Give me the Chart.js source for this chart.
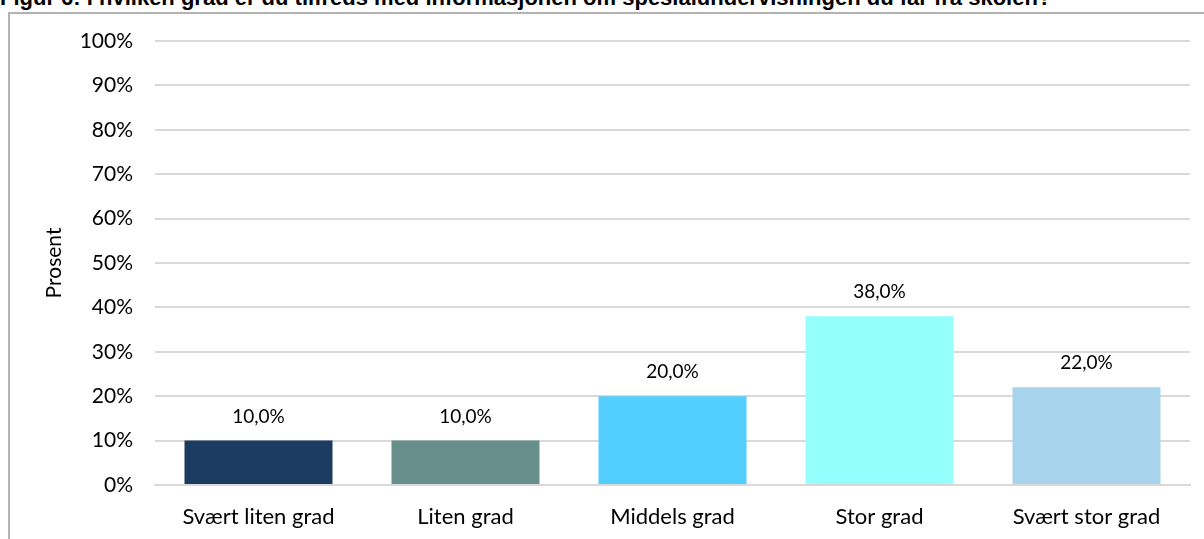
<!DOCTYPE html>
<html lang="no">
<head>
<meta charset="UTF-8">
<title>Figur 6</title>
<script src="https://cdn.jsdelivr.net/npm/chart.js@4.4.4/dist/chart.umd.min.js"></script>
<style>
    html, body {
        margin: 0;
        padding: 0;
        background: #fff;
        overflow: hidden;
    }
    #wrap {
        position: relative;
        width: 1204px;
        height: 539px;
        overflow: hidden;
    }
    #frame {
        position: absolute;
        left: 8px;
        top: 12px;
        width: 1300px;
        height: 600px;
        border-left: 2px solid #b3b3b3;
        border-top: 2px solid #b3b3b3;
    }
    #title {
        position: absolute;
        left: 0;
        top: -13px;
        margin: 0;
        font-family: "Liberation Sans", Arial, sans-serif;
        font-weight: bold;
        font-size: 22px;
        line-height: 22px;
        color: #000;
        white-space: nowrap;
    }
    #chart-box {
        position: absolute;
        left: 0;
        top: 0;
        width: 1204px;
        height: 539px;
    }
</style>
</head>
<body>
<div id="wrap">
    <div id="frame"></div>
    <div id="title">Figur 6: I hvilken grad er du tilfreds med informasjonen om spesialundervisningen du får fra skolen?</div>
    <div id="chart-box"><canvas id="chart" width="1204" height="539"></canvas></div>
</div>

<script>
    // Data
    const categories = ['Svært liten grad', 'Liten grad', 'Middels grad', 'Stor grad', 'Svært stor grad'];
    const values = [10, 10, 20, 38, 22];
    const barColors = ['#1b3b61', '#678f8b', '#53cfff', '#95fffe', '#a8d3ec'];
    const yAxisTitle = 'Prosent';

    const fontFamily = 'Lato, "Open Sans", sans-serif';

    // draws the "10,0%" labels above the bars
    const valueLabels = {
        id: 'valueLabels',
        afterDatasetsDraw(chart) {
            const ctx = chart.ctx;
            const meta = chart.getDatasetMeta(0);
            ctx.save();
            ctx.font = '19px ' + fontFamily;
            ctx.fillStyle = '#000';
            ctx.textAlign = 'center';
            ctx.textBaseline = 'middle';
            meta.data.forEach((bar, i) => {
                const txt = values[i].toFixed(1).replace('.', ',') + '%';
                ctx.fillText(txt, bar.x, bar.y - 24);
            });
            ctx.restore();
        }
    };

    new Chart(document.getElementById('chart'), {
        type: 'bar',
        data: {
            labels: categories,
            datasets: [{
                data: values,
                backgroundColor: barColors,
                borderWidth: 0,
                categoryPercentage: 1,
                barPercentage: 0.715
            }]
        },
        options: {
            responsive: false,
            animation: false,
            layout: { padding: { left: 0, right: 14, top: 41, bottom: 0 } },
            plugins: {
                legend: { display: false },
                tooltip: { enabled: false },
                title: { display: false }
            },
            scales: {
                x: {
                    grid: { display: false, drawTicks: false },
                    border: { display: true, color: '#d9d9d9', width: 2 },
                    ticks: {
                        padding: 19,
                        color: '#000',
                        font: { family: fontFamily, size: 22 },
                        maxRotation: 0
                    },
                    afterFit(scale) { scale.height = 54; }
                },
                y: {
                    min: 0,
                    max: 100,
                    grid: { color: '#d9d9d9', lineWidth: 2, drawTicks: false },
                    border: { display: false },
                    ticks: {
                        stepSize: 10,
                        padding: 22,
                        color: '#000',
                        font: { family: fontFamily, size: 21 },
                        callback: v => v + '%'
                    },
                    title: {
                        display: true,
                        text: yAxisTitle,
                        color: '#000',
                        font: { family: fontFamily, size: 21 },
                        padding: { top: 42, bottom: 0 }
                    },
                    afterFit(scale) { scale.width = 155; }
                }
            }
        },
        plugins: [valueLabels]
    });
</script>
</body>
</html>
